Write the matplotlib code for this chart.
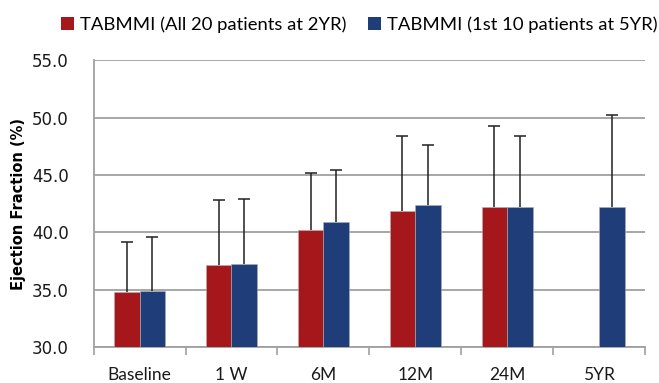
import numpy as np
import matplotlib
matplotlib.use("Agg")
import matplotlib.pyplot as plt
from matplotlib.patches import Patch

# data
categories = ['Baseline', '1 W', '6M', '12M', '24M', '5YR']
ef_all20_2yr = [34.8, 37.2, 40.2, 41.9, 42.2, np.nan]
sd_all20_2yr = [4.4, 5.6, 5.0, 6.5, 7.1, np.nan]
ef_first10_5yr = [34.9, 37.3, 40.9, 42.4, 42.2, 42.2]
sd_first10_5yr = [4.7, 5.6, 4.5, 5.2, 6.2, 8.0]
series_names = ['TABMMI (All 20 patients at 2YR)', 'TABMMI (1st 10 patients at 5YR)']

red = '#A6171C'
blue = '#1F3D78'
grid_col = '#A0A0A0'

fig = plt.figure(figsize=(6.59, 3.83), dpi=100)
ax = fig.add_axes([0.142, 0.093, 0.837, 0.750])

x = np.arange(len(categories))
w = 0.28

ax.bar(x - w / 2, ef_all20_2yr, w, color=red, edgecolor='#b0b0b0', linewidth=0.4, zorder=3)
ax.bar(x + w / 2, ef_first10_5yr, w, color=blue, edgecolor='#b0b0b0', linewidth=0.4, zorder=3)

# only the upper half of the error bars is shown
zeros = np.zeros(len(categories))
for xs, ys, sd in [(x - w / 2, ef_all20_2yr, sd_all20_2yr),
                   (x + w / 2, ef_first10_5yr, sd_first10_5yr)]:
    eb = ax.errorbar(xs, ys, yerr=[zeros, sd], fmt='none', ecolor='#202020',
                     elinewidth=1.1, capsize=4, capthick=1.1, zorder=2)
    eb[1][0].set_visible(False)  # drop the cap sitting on the bar top

ax.set_ylim(30, 55)
ax.set_xlim(-0.5, len(categories) - 0.5)
ax.set_yticks(np.arange(30, 55.1, 5))
ax.set_yticklabels([f'{v:.1f}' for v in np.arange(30, 55.1, 5)], fontsize=12, color='#1a1a1a')
ax.yaxis.grid(True, color=grid_col, linewidth=1.3, zorder=0)
ax.tick_params(axis='y', length=0, pad=18)

ax.set_xticks(x)
ax.set_xticklabels(categories, fontsize=12.5, family=['Lato', 'DejaVu Sans'], color='#1a1a1a')
ax.set_xticks(np.arange(-0.5, len(categories)), minor=True)
ax.tick_params(axis='x', which='major', length=0, pad=14)
ax.tick_params(axis='x', which='minor', length=6, width=1.2, color=grid_col, direction='out')

for s in ['top', 'right']:
    ax.spines[s].set_visible(False)
for s in ['left', 'bottom']:
    ax.spines[s].set_color(grid_col)
    ax.spines[s].set_linewidth(1.3)

ax.set_ylabel('Ejection Fraction (%)', fontsize=10.5, fontweight='bold', labelpad=4)

handles = [Patch(facecolor=red), Patch(facecolor=blue)]
fig.legend(handles, series_names, loc='center', bbox_to_anchor=(0.545, 0.935), ncol=2,
           frameon=False, handlelength=0.7, handleheight=0.7, handletextpad=0.3,
           columnspacing=1.2, prop={'family': ['Lato', 'DejaVu Sans'], 'size': 13.3})

fig.savefig('out.png', dpi=100)
